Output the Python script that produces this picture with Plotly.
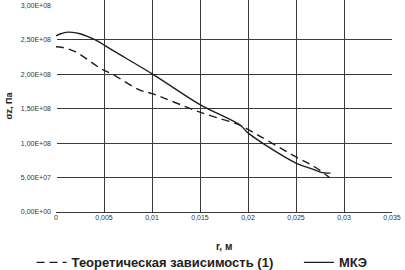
import plotly.graph_objects as go

# Data (r in m, sigma_z in Pa)
r_fem = [0, 0.0005, 0.001, 0.0017, 0.0025, 0.0033, 0.0041, 0.006, 0.0101, 0.015, 0.0192, 0.02, 0.025, 0.0268, 0.0276, 0.0286]
s_fem = [2.56e8, 2.59e8, 2.61e8, 2.61e8, 2.59e8, 2.55e8, 2.50e8, 2.34e8, 2.00e8, 1.56e8, 1.26e8, 1.15e8, 0.71e8, 0.62e8, 0.575e8, 0.565e8]

r_theory = [0, 0.0007, 0.002, 0.0046, 0.0059, 0.00875, 0.01, 0.015, 0.0192, 0.02, 0.025, 0.027, 0.0285]
s_theory = [2.40e8, 2.39e8, 2.33e8, 2.09e8, 2.00e8, 1.77e8, 1.72e8, 1.45e8, 1.26e8, 1.20e8, 0.80e8, 0.65e8, 0.50e8]

x_ticks = [0, 0.005, 0.01, 0.015, 0.02, 0.025, 0.03, 0.035]
x_labels = ["0", "0,005", "0,01", "0,015", "0,02", "0,025", "0,03", "0,035"]
y_ticks = [0, 0.5e8, 1.0e8, 1.5e8, 2.0e8, 2.5e8, 3.0e8]
y_labels = ["0,00E+00", "5,00E+07", "1,00E+08", "1,50E+08", "2,00E+08", "2,50E+08", "3,00E+08"]
x_title = "r, м"
y_title = "σz, Па"

LINE = "#1e1e1e"
GRID = "#3a3a3a"
FONT = "Liberation Sans"

fig = go.Figure()
fig.add_trace(go.Scatter(x=r_theory, y=s_theory, mode="lines",
                         name="<b>Теоретическая зависимость (1)</b>", legend="legend",
                         line=dict(color=LINE, width=1.4, dash="8px,5px"),
                         line_shape="spline"))
fig.add_trace(go.Scatter(x=r_fem, y=s_fem, mode="lines", name="<b>МКЭ</b>", legend="legend2",
                         line=dict(color=LINE, width=1.4), line_shape="spline"))
# invisible trace on y2 to carry the full tick label set
fig.add_trace(go.Scatter(x=[None], y=[None], yaxis="y2", showlegend=False))

legend_common = dict(orientation="h", xref="container", yref="container",
                     xanchor="left", yanchor="middle",
                     font=dict(size=13, family=FONT, color="#222"),
                     bgcolor="rgba(0,0,0,0)")

yrange = [0, 3.08e8]
fig.update_layout(
    width=405, height=270,
    margin=dict(l=56, r=13, t=0, b=58),
    paper_bgcolor="white", plot_bgcolor="white",
    font=dict(family=FONT, color="#222"),
    showlegend=True,
    legend=dict(legend_common, x=0.078, y=0.028),
    legend2=dict(legend_common, x=0.738, y=0.028),
    xaxis=dict(range=[0, 0.035], tickvals=x_ticks, ticktext=x_labels,
               showgrid=True, gridcolor=GRID, gridwidth=1,
               zeroline=True, zerolinecolor="white", zerolinewidth=2,
               showline=False, ticks="", automargin=False,
               tickfont=dict(size=7, family=FONT, color="#333")),
    yaxis=dict(range=yrange, tickvals=y_ticks[:-1],
               showgrid=True, gridcolor=GRID, gridwidth=1,
               zeroline=True, zerolinecolor=GRID, zerolinewidth=1,
               showline=False, ticks="", showticklabels=False, automargin=False,
               title=dict(text="<b>" + y_title + "</b>", font=dict(size=9, family=FONT, color="#222"),
                          standoff=40)),
    yaxis2=dict(range=yrange, overlaying="y", side="left", tickvals=y_ticks,
                ticktext=y_labels, showgrid=False, zeroline=False, showline=False,
                ticks="", automargin=False, tickfont=dict(size=7, family=FONT, color="#333"),
                ticklabelstandoff=4),
    annotations=[dict(text="<b>" + x_title + "</b>", xref="paper", yref="paper",
                      x=0.5, y=-0.165, xanchor="center", yanchor="middle", showarrow=False,
                      font=dict(size=10, family=FONT, color="#222"))],
)
fig.write_html("out.html")
